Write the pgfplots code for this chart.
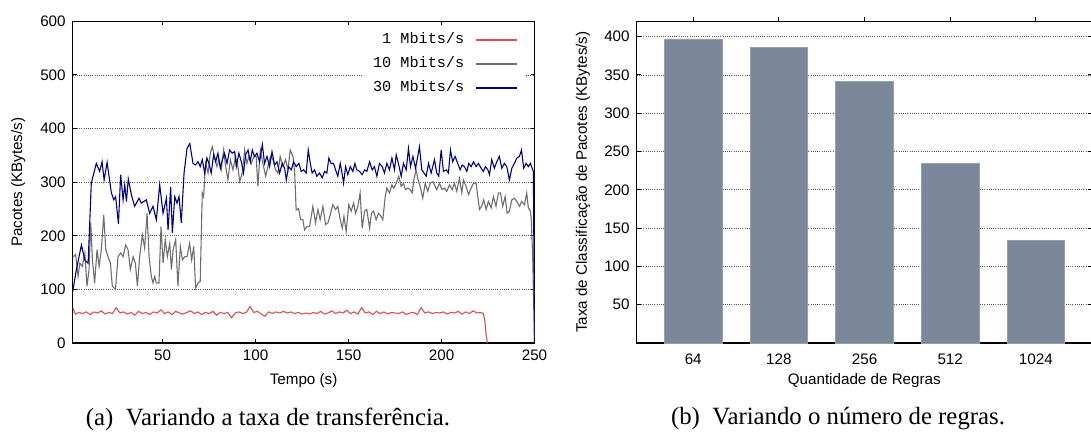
\documentclass[border=0pt]{standalone}
\usepackage{fontspec}
\setmainfont{Liberation Serif}
\setsansfont{Liberation Sans}
\setmonofont{Liberation Mono}
\usepackage{pgfplots}
\pgfplotsset{compat=1.18}

\definecolor{linered}{RGB}{220,80,80}
\definecolor{linegray}{RGB}{110,110,110}
\definecolor{lineblue}{RGB}{0,0,140}
\definecolor{barfill}{RGB}{122,136,154}

\newcommand{\lblfont}{\sffamily\fontsize{7.6}{9}\selectfont}

\pgfplotsset{
  gnu/.style={
    scale only axis,
    font=\lblfont,
    tick label style={font=\lblfont},
    /pgf/number format/assume math mode=true,
    tick align=inside,
    major tick length=2pt,
    axis line style={line width=0.6pt},
    every tick/.style={black,line width=0.5pt},
    ymajorgrids,
    grid style={black!65,line width=0.35pt,dash pattern=on 0.45pt off 0.65pt},
    every axis y label/.style={at={(axis description cs:-0.118,0.5)},rotate=90,anchor=center},
    every axis x label/.style={at={(axis description cs:0.5,-0.118)},anchor=center},
  },
}

\begin{document}
\begin{tikzpicture}
\useasboundingbox (0,0) rectangle (545.5pt,-217pt);

% (a) taxa de transferencia
\begin{axis}[gnu,
  at={(36.35pt,-171.5pt)}, anchor=south west,
  width=230.9pt, height=160.85pt,
  xmin=1.6, xmax=250, ymin=0, ymax=600,
  xtick={50,100,150,200,250},
  ytick={0,100,200,300,400,500,600},
  xlabel={Tempo (s)},
  ylabel={Pacotes (KBytes/s)},
  legend style={at={(rel axis cs:0.983,0.982)}, anchor=north east,
    draw=none, fill=white,
    font=\ttfamily\fontsize{7.6}{9}\selectfont,
    nodes={inner sep=1.5pt}, row sep=2pt, column sep=4pt,
    inner xsep=4pt, inner ysep=1pt},
  legend cell align=right,
  legend plot pos=right,
  legend image code/.code={\draw[line width=1pt] (0pt,0pt) -- (20.5pt,0pt);},
]
\addplot[color=linered, line width=0.55pt] coordinates {
(1.6,66) (3,54) (5,57) (7,55) (9,58) (11,53) (13,58) (15,56) (17,60) (19,54)
(21,57) (23,55) (25,66) (27,56) (29,58) (31,54) (33,57) (35,52) (37,59) (39,55)
(41,57) (43,53) (45,58) (47,56) (49,62) (51,55) (53,58) (55,53) (57,59) (59,56)
(61,54) (63,57) (65,60) (67,55) (69,58) (71,53) (73,57) (75,55) (77,59) (79,52)
(81,57) (83,55) (85,57) (87,47) (89,56) (91,58) (93,55) (95,57) (97,68) (99,57)
(101,59) (103,54) (105,50) (107,58) (109,55) (111,58) (113,56) (115,59) (117,56) (119,58)
(121,55) (123,57) (125,54) (127,56) (129,54) (131,57) (133,55) (135,59) (137,54) (139,56)
(141,60) (143,55) (145,58) (147,56) (149,61) (151,55) (153,58) (155,54) (157,66) (159,56)
(161,58) (163,53) (165,59) (167,55) (169,58) (171,54) (173,57) (175,56) (177,55) (179,58)
(181,53) (183,56) (185,57) (187,53) (189,66) (191,56) (193,58) (195,55) (197,57) (199,56)
(201,58) (203,54) (205,57) (207,56) (209,59) (211,54) (213,58) (215,55) (217,60) (219,56)
(221,57) (222.5,55) (223.3,40) (224,15) (224.7,0)
};
\addlegendentry{1 Mbits/s}
\addplot[color=linegray, line width=0.55pt] coordinates {
(1.6,160) (3.2,165) (4.5,124) (5.4,149) (6.8,143) (8.1,168) (9.3,106) (10.4,137) (11.3,224) (12.2,155)
(13.4,112) (14.7,174) (15.8,143) (17.0,174) (18.3,239) (19.4,174) (20.6,161) (21.9,149) (22.9,106) (24.6,100)
(26.0,161) (27.4,168) (28.7,161) (30.1,183) (31.4,174) (32.6,137) (34.1,161) (35.3,149) (36.4,106) (37.6,161)
(39.1,202) (40.3,177) (41.6,242) (42.7,161) (43.9,124) (44.8,112) (45.7,124) (46.6,112) (48.0,112) (49.1,217)
(50.2,149) (51.4,193) (52.5,161) (53.8,186) (54.7,137) (55.6,174) (57.0,193) (58.2,106) (59.5,180) (60.6,155)
(61.8,161) (63.1,161) (64.5,186) (65.6,155) (66.7,180) (67.7,102) (69.0,112) (70.2,115) (71.3,280) (72.0,273)
(73.1,335) (74.4,317) (75.6,354) (76.7,366) (77.9,348) (79.2,329) (80.3,342) (81.5,323) (82.8,360) (83.9,329)
(85.1,304) (86.4,342) (87.8,323) (89.2,348) (90.5,329) (91.4,301) (92.8,317) (94.1,360) (95.3,335) (96.4,348)
(97.7,335) (99.1,348) (100.3,348) (101.2,292) (102.5,360) (103.9,335) (105.4,311) (106.6,329) (108.0,348) (109.3,342)
(110.7,323) (112.0,317) (113.2,348) (114.7,329) (116.1,342) (117.4,323) (118.6,360) (120.1,348) (121.0,317) (121.8,248)
(123.1,251) (124.2,230) (125.4,230) (126.3,211) (127.6,217) (129.0,217) (130.8,255) (132.2,224) (133.5,249) (134.7,230)
(136.2,255) (137.6,221) (138.9,224) (140.1,239) (141.5,258) (143.0,249) (144.2,255) (145.5,230) (146.6,214) (147.5,236)
(148.7,208) (150.1,258) (151.4,246) (152.7,261) (153.7,242) (155.0,255) (156.2,280) (157.3,214) (158.6,246) (159.8,249)
(161.3,214) (162.3,242) (163.4,246) (164.8,230) (166.1,242) (167.5,236) (168.4,230) (169.7,273) (170.6,289) (172.0,280)
(173.3,295) (174.3,289) (175.6,298) (177.0,311) (178.3,292) (179.5,298) (180.6,286) (181.9,289) (183.1,286) (184.2,280)
(185.1,304) (186.3,323) (187.4,304) (188.5,292) (189.9,270) (191.2,298) (192.6,283) (193.9,298) (195.3,301) (197.4,286)
(198.9,298) (200.3,286) (201.6,289) (202.8,283) (204.3,295) (205.7,286) (206.9,298) (208.2,283) (209.6,307) (210.9,280)
(211.8,304) (213.2,292) (214.6,277) (215.9,289) (217.2,298) (218.6,298) (219.5,273) (220.4,249) (221.6,255) (222.7,267)
(224.0,249) (225.2,264) (226.7,252) (227.9,273) (229.3,255) (230.6,280) (231.7,280) (232.9,255) (234.2,273) (235.3,242)
(236.5,246) (237.8,267) (239.2,270) (240.5,264) (241.9,255) (243.1,264) (244.6,258) (245.8,280) (246.7,252) (247.8,246)
(248.3,230) (249.1,150) (250,0)
};
\addlegendentry{10 Mbits/s}
\addplot[color=lineblue, line width=0.55pt] coordinates {
(1.6,96) (3.6,137) (6.3,183) (8.1,155) (9.9,149) (11.6,298) (14.3,335) (16.1,320) (17.4,338) (18.5,304)
(20.1,337) (22.4,280) (23.7,267) (24.7,273) (26.2,222) (27.4,314) (28.7,267) (29.6,295) (30.5,264) (31.5,306)
(33.2,276) (34.9,255) (37.3,270) (38.5,261) (41.2,267) (43.0,242) (44.8,255) (46.6,230) (48.4,295) (50.2,242)
(52.0,270) (52.9,211) (54.3,291) (55.2,205) (56.5,273) (57.7,261) (58.8,273) (60.0,224) (61.5,317) (63.1,363)
(64.6,372) (66.3,335) (67.7,332) (69.0,338) (70.2,329) (71.3,342) (72.6,317) (73.8,345) (74.9,335) (76.1,317)
(77.4,351) (78.5,338) (79.7,354) (81.0,326) (82.1,342) (83.3,354) (84.6,335) (86.0,360) (87.4,354) (88.7,357)
(89.6,329) (91.0,354) (92.3,338) (93.5,317) (94.6,351) (95.9,360) (97.1,338) (98.2,360) (99.4,348) (100.7,354)
(102.1,338) (103.6,370) (104.8,335) (106.1,348) (107.5,329) (108.8,357) (110.2,332) (111.5,338) (112.9,317) (114.3,335)
(115.6,326) (116.5,304) (117.7,329) (119.2,323) (120.4,338) (121.8,329) (123.3,335) (124.5,320) (125.8,323) (127.2,317)
(128.3,360) (129.4,335) (130.4,317) (131.7,323) (132.9,311) (134.4,317) (135.8,308) (137.1,320) (138.3,317) (139.4,345)
(140.6,335) (141.9,335) (143.0,323) (144.2,311) (145.5,335) (146.6,314) (147.3,298) (148.4,329) (149.6,314) (150.9,329)
(152.3,320) (153.4,335) (154.4,323) (155.9,320) (157.3,314) (158.6,323) (159.8,320) (161.3,338) (162.7,323) (163.9,329)
(165.2,311) (166.6,335) (168.1,329) (169.3,317) (170.6,335) (172.0,323) (173.3,345) (174.7,323) (175.6,351) (177.0,332)
(178.3,311) (179.5,335) (181.0,323) (182.2,363) (183.3,329) (184.6,348) (186.0,326) (187.2,348) (188.1,366) (189.4,323)
(190.6,317) (191.7,311) (193.0,335) (194.4,317) (196.2,342) (197.4,317) (198.5,311) (199.8,360) (201.0,320) (202.5,323)
(203.7,317) (204.8,360) (206.0,338) (207.3,348) (208.7,335) (210.0,323) (211.1,332) (212.3,329) (213.6,320) (214.6,335)
(215.9,329) (217.2,338) (218.6,329) (219.8,335) (221.3,326) (222.5,320) (223.6,329) (224.9,323) (225.8,314) (227.0,342)
(228.4,326) (229.7,338) (231.1,348) (232.4,326) (233.8,335) (235.1,329) (236.5,304) (237.8,326) (239.2,335) (240.5,345)
(241.9,348) (243.0,360) (244.2,326) (245.5,335) (246.7,329) (247.8,335) (248.7,326) (249.4,320) (250,0)
};
\addlegendentry{30 Mbits/s}
\end{axis}

% (b) numero de regras
\begin{axis}[gnu,
  at={(318.35pt,-171.5pt)}, anchor=south west,
  width=227.6pt, height=160.85pt,
  xmin=-0.66, xmax=4.654, ymin=0, ymax=420,
  xtick={0,1,2,3,4},
  xticklabels={64,128,256,512,1024},
  xtick pos=right, xticklabel pos=left,
  ytick={50,100,150,200,250,300,350,400},
  xlabel={Quantidade de Regras},
  ylabel={Taxa de Classificação de Pacotes (KBytes/s)},
  ybar, bar width=0.67,
]
\addplot[fill=barfill, draw=barfill!80!white, line width=0.4pt] coordinates {
(0,397) (1,386) (2,341) (3,234) (4,134)
};
\end{axis}

\node[font=\fontsize{12.4}{14}\selectfont] at (134pt,-209.5pt) {(a)\enspace Variando a taxa de transferência.};
\node[font=\fontsize{12.4}{14}\selectfont] at (419pt,-209.5pt) {(b)\enspace Variando o número de regras.};
\end{tikzpicture}
\end{document}
